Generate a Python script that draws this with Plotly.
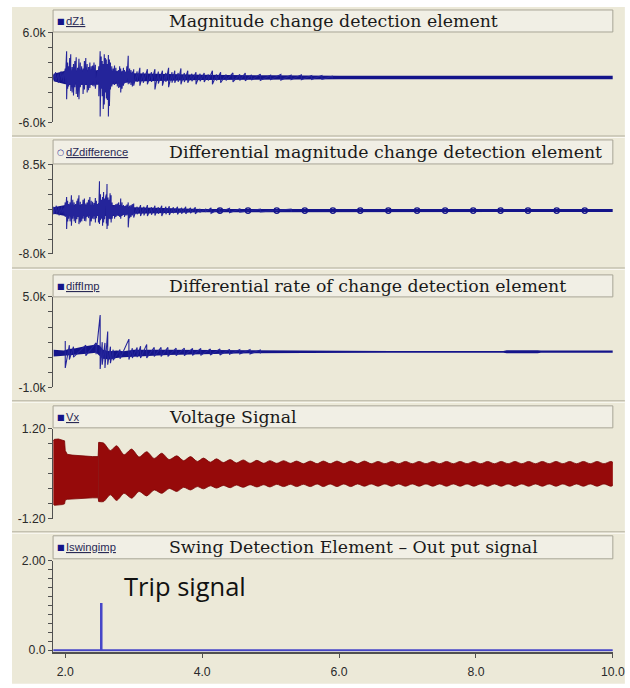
import plotly.graph_objects as go

W, H = 643, 688

# ---------------- data ----------------
time_ticks = [2.0, 4.0, 6.0, 8.0, 10.0]
time_tick_labels = ["2.0", "4.0", "6.0", "8.0", "10.0"]

# dZ1 : (time, upper spike, lower spike)
dz1_spikes = [
    (1.83, 400, -300), (1.86, 700, -500), (1.90, 500, -700), (1.94, 800, -400), (1.97, 600, -600),
    (2.00, 1200, -800), (2.02, 3500, -2900), (2.035, 2000, -1500), (2.05, 1500, -1200), (2.065, 2600, -1000),
    (2.08, 3100, -1800), (2.10, 1400, -2000), (2.12, 1800, -2400), (2.14, 2200, -1300), (2.16, 2700, -2200),
    (2.18, 1300, -2600), (2.20, 2500, -2900), (2.22, 2000, -1300), (2.24, 1500, -1000), (2.26, 1200, -2200),
    (2.28, 2200, -1600), (2.30, 2600, -1000), (2.32, 1800, -2000), (2.34, 1400, -1700), (2.36, 2000, -1400),
    (2.38, 1500, -1000), (2.40, 1600, -1100), (2.42, 2000, -1200), (2.44, 1700, -1500), (2.47, 1000, -900),
    (2.49, 1500, -2500), (2.51, 3500, -5200), (2.525, 2800, -1500), (2.54, 2200, -2500), (2.555, 1800, -4200),
    (2.57, 3100, -3600), (2.585, 2600, -2000), (2.60, 2400, -2800), (2.615, 1800, -3000), (2.63, 3000, -5200),
    (2.645, 2400, -3800), (2.66, 2000, -1600), (2.68, 1500, -1200), (2.70, 1200, -900), (2.72, 1600, -1000),
    (2.74, 1300, -700), (2.76, 900, -1200), (2.78, 1000, -1400), (2.795, 1500, -1300), (2.81, 1200, -2000),
    (2.83, 900, -1500), (2.85, 1300, -1100), (2.865, 1000, -800), (2.88, 800, -700), (2.90, 1500, -700),
    (2.92, 2900, -900), (2.94, 1200, -800), (2.96, 1000, -1000), (2.98, 800, -1200), (3.00, 1100, -1100),
    (3.05, 800, -600), (3.09, 1300, -1100), (3.14, 700, -700), (3.20, 1100, -900), (3.26, 700, -600),
    (3.31, 1100, -1600), (3.36, 800, -800), (3.42, 900, -1100), (3.47, 600, -600), (3.51, 1300, -1300),
    (3.56, 700, -700), (3.60, 900, -700), (3.65, 600, -600), (3.69, 1200, -900), (3.74, 600, -600),
    (3.79, 900, -700), (3.85, 500, -500), (3.91, 700, -900), (3.97, 500, -500), (4.03, 600, -600),
    (4.09, 400, -400), (4.15, 900, -900), (4.21, 400, -400), (4.27, 700, -700), (4.35, 400, -400),
    (4.45, 600, -600), (4.55, 400, -400), (4.63, 600, -450), (4.72, 350, -350), (4.85, 450, -400),
    (5.00, 300, -300), (5.15, 400, -350), (5.30, 300, -300), (5.45, 350, -300), (5.60, 250, -250),
    (5.75, 250, -250), (5.90, 150, -150),
]
# dZ1 dense small-noise core : (time, upper, lower)
dz1_band = [
    (1.83, 500, -500), (2.00, 900, -900), (2.30, 1000, -1000), (2.70, 900, -900), (3.00, 550, -550),
    (4.00, 350, -350), (5.00, 280, -280), (6.00, 230, -250), (10.0, 230, -250),
]

# dZdifference
dzd_spikes = [
    (1.83, 700, -700), (1.87, 900, -600), (1.91, 600, -900), (1.95, 800, -500), (1.98, 500, -700),
    (2.00, 1500, -1200), (2.02, 2500, -3400), (2.035, 1800, -2000), (2.05, 1200, -1500), (2.07, 1500, -2000),
    (2.09, 2800, -2800), (2.11, 2000, -1500), (2.13, 1500, -2000), (2.15, 1200, -2300), (2.17, 1800, -1600),
    (2.185, 2200, -1200), (2.20, 2800, -2500), (2.22, 1600, -2200), (2.24, 1200, -2000), (2.26, 2000, -1500),
    (2.28, 2200, -1900), (2.30, 1300, -2000), (2.32, 1500, -1200), (2.34, 2000, -1400), (2.36, 2500, -2800),
    (2.38, 1800, -2000), (2.40, 1600, -1500), (2.42, 1400, -1600), (2.44, 2300, -2200), (2.455, 1800, -1400),
    (2.47, 1200, -1000), (2.485, 1400, -2200), (2.50, 5400, -2500), (2.515, 3000, -1800), (2.53, 2000, -1500),
    (2.545, 2500, -2800), (2.56, 3400, -2200), (2.575, 2200, -1600), (2.59, 2500, -2000), (2.60, 3000, -2400),
    (2.61, 4900, -3400), (2.625, 2400, -2800), (2.64, 2000, -1500), (2.655, 3200, -1600), (2.67, 2800, -2200),
    (2.685, 1500, -1500), (2.70, 800, -900), (2.72, 1000, -1500), (2.74, 1200, -1200), (2.76, 1300, -900),
    (2.78, 1500, -1000), (2.795, 1000, -1200), (2.81, 2200, -1500), (2.83, 1500, -1000), (2.85, 1000, -800),
    (2.865, 800, -1200), (2.88, 900, -900), (2.90, 1100, -900), (2.92, 1500, -3100), (2.94, 900, -1400),
    (2.96, 1000, -1200), (2.98, 1200, -900), (3.00, 1300, -1300), (3.05, 700, -700), (3.10, 1000, -1000),
    (3.15, 700, -900), (3.20, 1000, -1000), (3.26, 600, -800), (3.31, 900, -900), (3.36, 600, -600),
    (3.41, 900, -1000), (3.47, 700, -700), (3.52, 800, -800), (3.58, 600, -500), (3.64, 700, -700),
    (3.70, 500, -600), (3.76, 700, -600), (3.83, 500, -500), (3.90, 600, -600), (3.97, 300, -300),
    (4.05, 250, -250), (4.13, 500, -500), (4.25, 300, -300), (4.40, 400, -400), (4.55, 300, -300),
    (4.85, 250, -250), (5.30, 250, -250),
]
dzd_band = [
    (1.83, 600, -600), (2.00, 1000, -1000), (2.70, 1000, -1000), (3.00, 600, -600), (4.00, 300, -300),
    (10.0, 280, -280),
]
dzd_marker_t = [4.26, 4.67, 5.09, 5.50, 5.91, 6.31, 6.72, 7.14, 7.55, 7.96, 8.36, 8.76, 9.18, 9.59]
dzd_marker_v = [0, 0, 0, 0, 0, 0, 0, 0, 0, 0, 0, 0, 0, 0]

# diffImp
dimp_band = [
    (1.83, 1500, 1050), (1.98, 1450, 1100), (2.05, 1550, 1100), (2.15, 1600, 1150), (2.25, 1700, 1200),
    (2.35, 1750, 1250), (2.45, 1850, 1300), (2.50, 1800, 1100), (2.55, 1500, 900), (2.65, 1400, 850),
    (2.75, 1450, 950), (2.85, 1400, 1000), (3.0, 1500, 1050), (3.5, 1500, 1150), (4.5, 1470, 1250),
    (5.5, 1450, 1280), (6.70, 1440, 1290), (6.75, 1420, 1300), (8.40, 1420, 1300), (8.45, 1460, 1270),
    (8.90, 1460, 1270), (8.95, 1440, 1290), (10.0, 1440, 1290),
]
dimp_spikes = [
    (2.00, 2070, 290), (2.06, 1800, 850), (2.12, 1700, 1000), (2.30, 1800, 1100), (2.45, 1950, 1200),
    (2.51, 3800, 220), (2.54, 2000, 500), (2.58, 1950, 290), (2.62, 2700, 500), (2.66, 1700, 600),
    (2.70, 1500, 800), (2.80, 1500, 900), (2.93, 2200, 850), (2.98, 1600, 950), (3.05, 1650, 1000),
    (3.10, 1730, 950), (3.19, 1850, 950), (3.30, 1650, 1050), (3.40, 1650, 1050), (3.50, 1650, 1050),
    (3.62, 1600, 1100), (3.74, 1600, 1100), (3.86, 1580, 1120), (3.98, 1580, 1120), (4.12, 1550, 1150),
    (4.26, 1550, 1150), (4.40, 1520, 1200), (4.55, 1500, 1220), (4.70, 1500, 1220), (4.85, 1480, 1250),
]

# Vx envelope : (time, upper, lower) -- before the swing starts, then the beating part
vx_envelope_early = [
    (1.825, 0.88, -0.80), (1.84, 0.92, -0.84), (1.90, 0.93, -0.84), (1.96, 0.91, -0.82), (1.99, 0.88, -0.80),
    (2.00, 0.62, -0.70), (2.03, 0.52, -0.68), (2.10, 0.50, -0.67), (2.20, 0.48, -0.66), (2.30, 0.47, -0.65),
    (2.40, 0.46, -0.64), (2.48, 0.46, -0.64), (2.49, 0.84, -0.74),
]
vx_envelope_swing = [
    (2.49, 0.84, -0.74),
    (2.56, 0.82, -0.74), (2.66, 0.62, -0.56), (2.75, 0.75, -0.71), (2.86, 0.51, -0.52),
    (2.97, 0.66, -0.65), (3.08, 0.45, -0.47), (3.19, 0.59, -0.59), (3.30, 0.41, -0.43),
    (3.41, 0.55, -0.52), (3.52, 0.38, -0.39), (3.63, 0.48, -0.47), (3.73, 0.35, -0.36),
    (3.83, 0.46, -0.43), (3.93, 0.33, -0.34), (4.02, 0.42, -0.40), (4.12, 0.31, -0.32),
    (4.21, 0.40, -0.38), (4.31, 0.30, -0.31), (4.41, 0.38, -0.37), (4.50, 0.29, -0.30),
    (4.60, 0.37, -0.36), (4.70, 0.28, -0.29), (4.80, 0.36, -0.35), (4.90, 0.28, -0.29),
    (4.99, 0.35, -0.35), (5.09, 0.28, -0.28), (5.19, 0.35, -0.34), (5.29, 0.28, -0.28),
    (5.38, 0.34, -0.34), (5.48, 0.27, -0.28), (5.58, 0.34, -0.34), (5.68, 0.27, -0.27),
    (5.77, 0.34, -0.34), (5.87, 0.27, -0.27), (5.97, 0.34, -0.34), (6.07, 0.27, -0.27),
    (6.17, 0.34, -0.34), (6.27, 0.27, -0.27), (6.37, 0.34, -0.33), (6.47, 0.27, -0.27),
    (6.57, 0.33, -0.33), (6.67, 0.27, -0.27), (6.77, 0.33, -0.33), (6.87, 0.27, -0.27),
    (6.97, 0.33, -0.33), (7.07, 0.27, -0.27), (7.17, 0.33, -0.33), (7.27, 0.27, -0.27),
    (7.37, 0.33, -0.33), (7.47, 0.27, -0.27), (7.57, 0.33, -0.33), (7.67, 0.27, -0.27),
    (7.77, 0.33, -0.33), (7.87, 0.27, -0.27), (7.97, 0.33, -0.33), (8.07, 0.27, -0.27),
    (8.17, 0.33, -0.33), (8.27, 0.27, -0.27), (8.37, 0.33, -0.33), (8.47, 0.27, -0.27),
    (8.57, 0.33, -0.33), (8.67, 0.27, -0.27), (8.77, 0.33, -0.33), (8.87, 0.27, -0.27),
    (8.97, 0.33, -0.33), (9.07, 0.27, -0.27), (9.17, 0.33, -0.33), (9.27, 0.27, -0.27),
    (9.37, 0.33, -0.33), (9.47, 0.27, -0.27), (9.57, 0.33, -0.33), (9.67, 0.27, -0.27),
    (9.77, 0.33, -0.33), (9.87, 0.27, -0.27), (9.97, 0.33, -0.33), (10.0, 0.31, -0.31),
]

# Iswingimp (trip output)
swing_t = [1.825, 2.522, 2.522, 2.530, 2.530, 10.0]
swing_v = [0, 0, 1.03, 1.03, 0, 0]

panel_titles = [
    "Magnitude change detection element",
    "Differential magnitude change detection element",
    "Differential rate of change detection element",
    "Voltage Signal",
    "Swing Detection Element \u2013 Out put signal",
]
panel_signals = ["dZ1", "dZdifference", "diffImp", "Vx", "Iswingimp"]
panel_ranges = [[-6000, 6000], [-8000, 8500], [-1000, 5000], [-1.2, 1.2], [-0.035, 2.0]]
panel_ticks = [
    [-6000, -4000, -2000, 0, 2000, 4000, 6000],
    [-8000, -5250, -2500, 250, 3000, 5750, 8500],
    [-1000, 0, 1000, 2000, 3000, 4000, 5000],
    [-1.2, -0.8, -0.4, 0.0, 0.4, 0.8, 1.2],
    [0.0, 0.2, 0.4, 0.6, 0.8, 1.0, 1.2, 1.4, 1.6, 1.8, 2.0],
]
panel_tick_text = [
    ["-6.0k", "", "", "", "", "", "6.0k"],
    ["-8.0k", "", "", "", "", "", "8.5k"],
    ["-1.0k", "", "", "", "", "", "5.0k"],
    ["-1.20", "", "", "", "", "", "1.20"],
    ["0.0", "", "", "", "", "", "", "", "", "", "2.00"],
]

# ---------------- layout geometry (target pixels in the picture) ----------------
PLOT_L, PLOT_R = 53, 612
plot_tb = [(32.5, 122.5), (164.5, 254), (297, 387.5), (429, 519), (560.7, 652)]
head_tb = [(10, 32), (140, 164), (275, 297), (406, 428), (536, 559)]
separators = [136, 268, 401, 532]

# the photographed page comes out reduced by ~2% and letter-boxed vertically; compensate
SC, OFF_Y = 0.98, 7.0

NAVY = "#14148a"
SPIKE = "#24249a"


def fs(v):
    return v / SC


TICKFONT = dict(family="Liberation Sans Narrow, Arial Narrow, Liberation Sans, sans-serif", size=fs(12),
                color="#2a2a2a")


def px(x):
    return (x / SC) / W


def py(y):
    return 1 - ((y - OFF_Y) / SC) / H


def spike_path(spikes):
    xs, ys = [], []
    for t, hi, lo in sorted(spikes):
        xs += [t, t]
        ys += [hi, lo]
    return xs, ys


def band_path(band):
    ts = [b[0] for b in band]
    hi = [b[1] for b in band]
    lo = [b[2] for b in band]
    return ts + ts[::-1], hi + lo[::-1]


def ax(i, kind):
    return kind if i == 1 else f"{kind}{i}"


fig = go.Figure()


def add_noise_panel(i, band, spikes):
    bx, by = band_path(band)
    fig.add_trace(go.Scatter(x=bx, y=by, fill="toself", fillcolor=NAVY, line=dict(width=0), mode="lines",
                             xaxis=ax(i, "x"), yaxis=ax(i, "y"), hoverinfo="skip"))
    sx, sy = spike_path(spikes)
    fig.add_trace(go.Scatter(x=sx, y=sy, mode="lines", line=dict(color=SPIKE, width=1.1),
                             xaxis=ax(i, "x"), yaxis=ax(i, "y")))


add_noise_panel(1, dz1_band, dz1_spikes)
add_noise_panel(2, dzd_band, dzd_spikes)
fig.add_trace(go.Scatter(x=dzd_marker_t, y=dzd_marker_v, mode="markers",
                         marker=dict(symbol="circle-open", size=5.5, color=NAVY, line=dict(width=1.2, color=NAVY)),
                         xaxis="x2", yaxis="y2"))
add_noise_panel(3, dimp_band, dimp_spikes)

# panel 4 : voltage band
bx, by = band_path(vx_envelope_early)
fig.add_trace(go.Scatter(x=bx, y=by, fill="toself", fillcolor="#960a0a", line=dict(width=0.8, color="#7a0505"),
                         mode="lines", xaxis="x4", yaxis="y4"))
bx, by = band_path(vx_envelope_swing)
fig.add_trace(go.Scatter(x=bx, y=by, fill="toself", fillcolor="#960a0a",
                         line=dict(width=0.8, color="#7a0505", shape="spline", smoothing=0.8),
                         mode="lines", xaxis="x4", yaxis="y4"))

# panel 5
fig.add_trace(go.Scatter(x=swing_t, y=swing_v, mode="lines", line=dict(color="#4646c8", width=2),
                         xaxis="x5", yaxis="y5"))

layout_axes = {}
for i in range(1, 6):
    top, bot = plot_tb[i - 1]
    xa = dict(domain=[px(PLOT_L), px(PLOT_R)], range=[1.822, 10.0], anchor=ax(i, "y"),
              showgrid=False, zeroline=False, fixedrange=True)
    if i < 5:
        xa.update(visible=False)
    else:
        xa.update(showline=True, linecolor="#505050", linewidth=2, ticks="outside", ticklen=4,
                  tickcolor="#505050", tickvals=time_ticks, ticktext=time_tick_labels,
                  tickfont=TICKFONT, ticklabelstandoff=4, ticklabeloverflow="allow")
    ya = dict(domain=[py(bot), py(top)], range=panel_ranges[i - 1], anchor=ax(i, "x"),
              showgrid=False, zeroline=False, showline=True, linecolor="#505050", linewidth=1,
              ticks="outside", ticklen=4, tickcolor="#505050", tickvals=panel_ticks[i - 1],
              ticktext=panel_tick_text[i - 1], tickfont=TICKFONT, fixedrange=True)
    layout_axes["xaxis" if i == 1 else f"xaxis{i}"] = xa
    layout_axes["yaxis" if i == 1 else f"yaxis{i}"] = ya

shapes = [
    dict(type="rect", xref="paper", yref="paper", x0=px(12), x1=px(624), y0=py(684), y1=py(7),
         fillcolor="#ECE9D8", line=dict(width=0), layer="below"),
]
for s in separators:
    shapes.append(dict(type="line", xref="paper", yref="paper", x0=px(12), x1=px(624), y0=py(s), y1=py(s),
                       line=dict(color="#C4C1B0", width=1.5), layer="below"))
    shapes.append(dict(type="line", xref="paper", yref="paper", x0=px(12), x1=px(624), y0=py(s + 1.5),
                       y1=py(s + 1.5), line=dict(color="#FAF9F3", width=1), layer="below"))
for (t, b) in head_tb:
    shapes.append(dict(type="rect", xref="paper", yref="paper", x0=px(PLOT_L), x1=px(PLOT_R), y0=py(b), y1=py(t),
                       fillcolor="#F1EFE5", line=dict(color="#A8A596", width=1), layer="below"))

annotations = []
for i, (t, b) in enumerate(head_tb):
    yc = py((t + b) / 2)
    annotations.append(dict(xref="paper", yref="paper", x=px(167), y=yc, xanchor="left", yanchor="middle",
                            text=panel_titles[i], showarrow=False,
                            font=dict(family="DejaVu Serif", size=fs(17), color="#1a1a1a")))
    sym = "\u25cb" if i == 1 else "\u25a0"
    annotations.append(dict(xref="paper", yref="paper", x=px(55), y=yc, xanchor="left", yanchor="middle",
                            text=sym, showarrow=False,
                            font=dict(family="DejaVu Sans", size=fs(8), color=NAVY)))
    annotations.append(dict(xref="paper", yref="paper", x=px(64), y=yc, xanchor="left", yanchor="middle",
                            text=f"<u>{panel_signals[i]}</u>", showarrow=False,
                            font=dict(family="Liberation Sans Narrow, Liberation Sans, sans-serif", size=fs(11),
                                      color="#2a2a55")))
annotations.append(dict(xref="paper", yref="paper", x=px(122), y=py(586), xanchor="left", yanchor="middle",
                        text="Trip signal", showarrow=False,
                        font=dict(family="Open Sans", size=fs(25), color="#111111")))

fig.update_layout(width=W, height=H, autosize=False, margin=dict(l=0, r=0, t=0, b=0),
                  paper_bgcolor="white", plot_bgcolor="white", showlegend=False,
                  shapes=shapes, annotations=annotations, **layout_axes)

pin_to_corner = (
    "var gd=document.getElementById('{plot_id}');"
    "document.documentElement.style.margin='0';document.documentElement.style.padding='0';"
    "document.documentElement.style.overflow='hidden';"
    "document.body.style.margin='0';document.body.style.padding='0';document.body.style.overflow='hidden';"
    "gd.style.position='fixed';gd.style.left='0px';gd.style.top='0px';"
)

fig.write_html("out.html", config={"displayModeBar": False}, post_script=pin_to_corner)
